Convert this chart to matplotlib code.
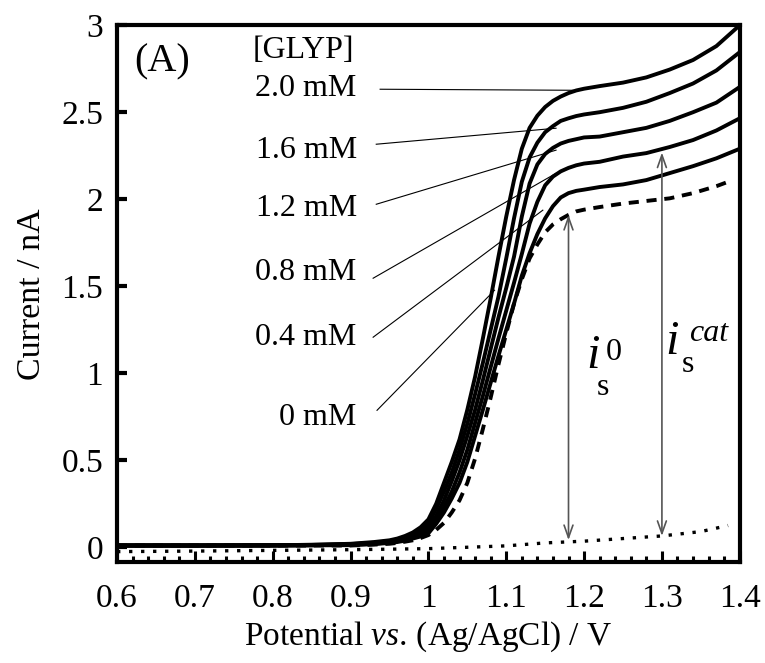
import numpy as np
import matplotlib
matplotlib.use('Agg')
import matplotlib.pyplot as plt

plt.rcParams['font.family'] = 'Liberation Serif'
plt.rcParams['mathtext.fontset'] = 'custom'
plt.rcParams['mathtext.rm'] = 'Liberation Serif'
plt.rcParams['mathtext.it'] = 'Liberation Serif:italic'

# potential (V) and current (nA)
pot = [0.60, 0.70, 0.80, 0.85, 0.90, 0.93, 0.95, 0.96, 0.97, 0.98, 0.99,
       1.00, 1.01, 1.02, 1.03, 1.04, 1.05, 1.06, 1.07, 1.08, 1.09, 1.10,
       1.11, 1.12, 1.13, 1.14, 1.15, 1.16, 1.17, 1.18, 1.19, 1.20,
       1.22, 1.25, 1.28, 1.31, 1.34, 1.37, 1.40]
i_2_0 = [0.01, 0.01, 0.012, 0.014, 0.02, 0.03, 0.04, 0.05, 0.065, 0.085, 0.115,
         0.16, 0.25, 0.37, 0.49, 0.62, 0.79, 0.98, 1.20, 1.43, 1.67, 1.90,
         2.11, 2.29, 2.41, 2.48, 2.53, 2.565, 2.59, 2.61, 2.625, 2.635,
         2.65, 2.67, 2.70, 2.745, 2.80, 2.88, 3.0]
i_1_6 = [0.01, 0.01, 0.012, 0.014, 0.018, 0.026, 0.035, 0.045, 0.058, 0.075, 0.10,
         0.135, 0.22, 0.32, 0.43, 0.56, 0.71, 0.88, 1.06, 1.25, 1.44, 1.66,
         1.89, 2.10, 2.24, 2.325, 2.385, 2.42, 2.45, 2.465, 2.478, 2.487,
         2.50, 2.525, 2.56, 2.61, 2.665, 2.74, 2.845]
i_1_2 = [0.01, 0.01, 0.01, 0.012, 0.016, 0.022, 0.03, 0.04, 0.05, 0.065, 0.085,
         0.115, 0.18, 0.27, 0.38, 0.50, 0.64, 0.79, 0.96, 1.14, 1.32, 1.49,
         1.67, 1.90, 2.09, 2.20, 2.26, 2.295, 2.32, 2.335, 2.345, 2.355,
         2.36, 2.385, 2.41, 2.45, 2.50, 2.555, 2.645]
i_0_8 = [0.01, 0.01, 0.01, 0.012, 0.014, 0.02, 0.028, 0.035, 0.045, 0.06, 0.077,
         0.10, 0.16, 0.23, 0.32, 0.43, 0.56, 0.715, 0.87, 1.035, 1.20, 1.36,
         1.52, 1.685, 1.86, 1.985, 2.08, 2.13, 2.16, 2.18, 2.195, 2.205,
         2.215, 2.245, 2.265, 2.30, 2.34, 2.395, 2.465]
i_0_4 = [0.01, 0.01, 0.01, 0.011, 0.012, 0.018, 0.025, 0.03, 0.038, 0.05, 0.062,
         0.08, 0.135, 0.20, 0.28, 0.37, 0.49, 0.64, 0.79, 0.945, 1.10, 1.25,
         1.40, 1.56, 1.69, 1.80, 1.89, 1.96, 2.01, 2.035, 2.048, 2.055,
         2.07, 2.085, 2.11, 2.15, 2.19, 2.235, 2.29]

# 0 mM (dashed), ends a bit before 1.4 V
pot_0 = pot[:-1] + [1.385]
i_0 = [0.01, 0.01, 0.01, 0.01, 0.01, 0.015, 0.02, 0.025, 0.032, 0.04, 0.053,
       0.07, 0.10, 0.14, 0.20, 0.27, 0.37, 0.51, 0.68, 0.86, 1.05, 1.23,
       1.40, 1.54, 1.66, 1.74, 1.81, 1.855, 1.885, 1.91, 1.93, 1.94,
       1.955, 1.975, 1.99, 2.005, 2.035, 2.075, 2.10]

# background (dotted)
pot_bg = [0.60, 0.70, 0.80, 0.90, 1.00, 1.10, 1.15, 1.20, 1.25, 1.30, 1.35, 1.385]
i_bg = [-0.025, -0.022, -0.018, -0.014, -0.008, 0.008, 0.025, 0.035, 0.05, 0.065, 0.09, 0.125]

conc_labels = ['2.0 mM', '1.6 mM', '1.2 mM', '0.8 mM', '0.4 mM', '0 mM']
label_y = [2.638, 2.282, 1.948, 1.580, 1.207, 0.747]
# leader lines: (x_start, y_start, x_end, y_end)
leaders = [(0.938, 2.632, 1.188, 2.626),
           (0.933, 2.316, 1.164, 2.408),
           (0.933, 1.971, 1.164, 2.282),
           (0.929, 1.546, 1.164, 2.149),
           (0.929, 1.207, 1.147, 1.937),
           (0.934, 0.787, 1.085, 1.477)]

fig = plt.figure(figsize=(7.65, 6.63), dpi=100)
ax = fig.add_axes([0.153, 0.152, 0.814, 0.810])

for y in [i_2_0, i_1_6, i_1_2, i_0_8, i_0_4]:
    ax.plot(pot, y, color='black', lw=2.8, solid_joinstyle='round')
ax.plot(pot_0, i_0, color='black', lw=2.8, dashes=(2.6, 2.0))
ax.plot(pot_bg, i_bg, color='black', lw=2.4, dashes=(1.0, 2.6))

# leader lines and labels
for lab, ly, (x0, y0, x1, y1) in zip(conc_labels, label_y, leaders):
    ax.text(0.908, ly, lab, ha='right', va='center', fontsize=23)
    ax.plot([x0, x1], [y0, y1], color='black', lw=0.8)
ax.text(0.839, 2.856, '[GLYP]', ha='center', va='center', fontsize=23)
ax.text(0.658, 2.787, '(A)', ha='center', va='center', fontsize=29)

# i_s arrows
x_a0, x_acat = 1.18, 1.30
top0 = np.interp(x_a0, pot_0, i_0)
bot0 = np.interp(x_a0, pot_bg, i_bg)
topc = np.interp(x_acat, pot, i_0_8)
botc = np.interp(x_acat, pot_bg, i_bg)
arr = dict(arrowstyle='<->,head_length=0.9,head_width=0.32', color='#555555',
           lw=1.2, shrinkA=0, shrinkB=0)
ax.annotate('', xy=(x_a0, top0), xytext=(x_a0, bot0 + 0.01), arrowprops=arr)
ax.annotate('', xy=(x_acat, topc - 0.02), xytext=(x_acat, botc), arrowprops=arr)

ax.text(1.211, 1.10, 'i', style='italic', fontsize=35, ha='center', va='center')
ax.text(1.224, 0.92, 's', fontsize=23, ha='center', va='center')
ax.text(1.238, 1.12, '0', fontsize=23, ha='center', va='center')
ax.text(1.313, 1.18, 'i', style='italic', fontsize=35, ha='center', va='center')
ax.text(1.334, 1.05, 's', fontsize=23, ha='center', va='center')
ax.text(1.360, 1.23, 'cat', style='italic', fontsize=23, ha='center', va='center')

ax.set_xlim(0.6, 1.4)
ax.set_ylim(-0.086, 3.0)
ax.set_xticks(np.arange(0.6, 1.41, 0.1))
ax.set_xticklabels(['0.6', '0.7', '0.8', '0.9', '1', '1.1', '1.2', '1.3', '1.4'])
ax.set_xticks(np.arange(0.6, 1.401, 0.02), minor=True)
ax.set_yticks([0, 0.5, 1, 1.5, 2, 2.5, 3])
ax.set_yticklabels(['0', '0.5', '1', '1.5', '2', '2.5', '3'])

for s in ax.spines.values():
    s.set_linewidth(3)
ax.tick_params(axis='x', which='major', direction='in', length=8, width=2.2,
               labelsize=24, pad=15, top=False)
ax.tick_params(axis='x', which='minor', direction='in', length=4, width=2.2,
               top=False)
ax.tick_params(axis='y', which='major', direction='in', length=7, width=3,
               labelsize=24, pad=10, right=False)

ax.set_xlabel(r'Potential $\it{vs.}\,$(Ag/AgCl) / V', fontsize=24, labelpad=4)
ax.set_ylabel('Current / nA', fontsize=24.5, labelpad=10)

plt.savefig('out.png', dpi=100)
